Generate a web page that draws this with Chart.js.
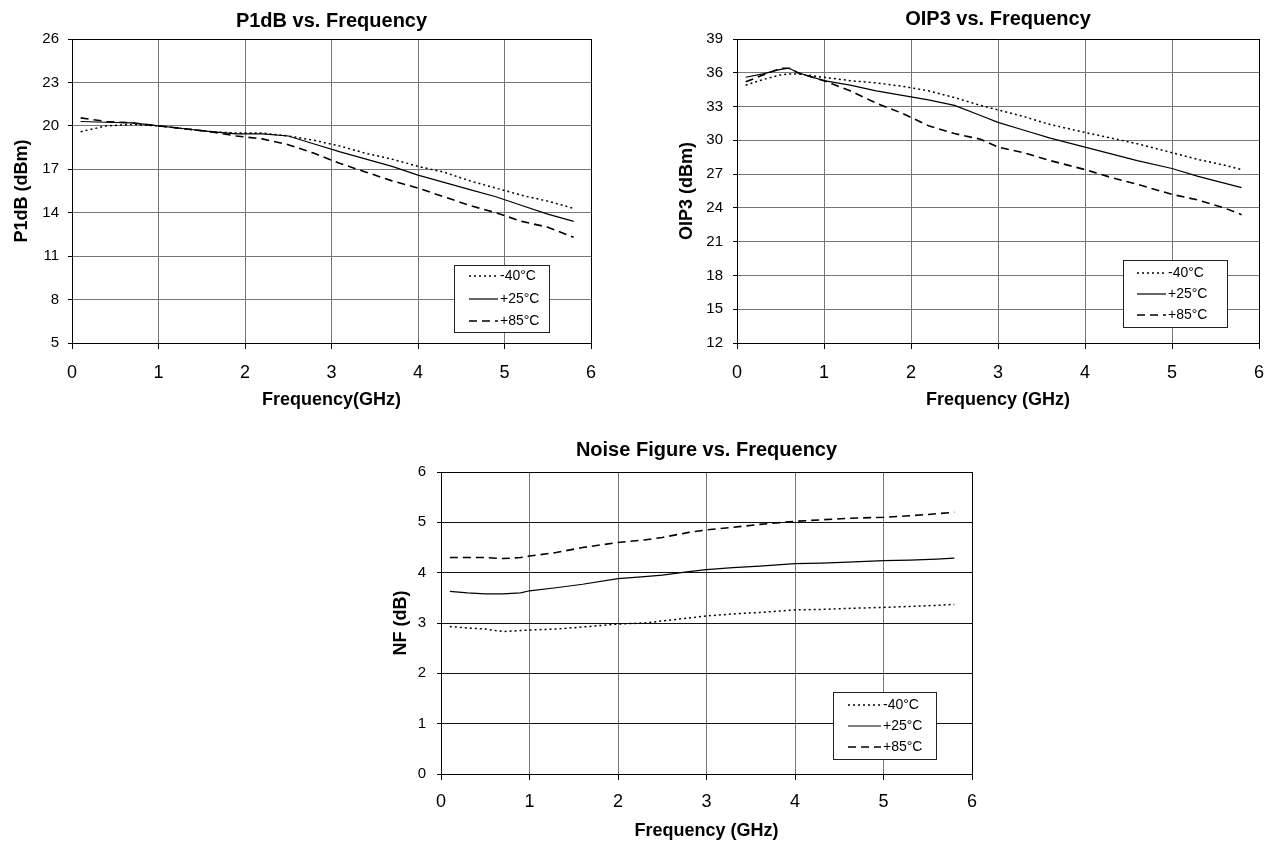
<!DOCTYPE html>
<html>
<head>
<meta charset="utf-8">
<script src="https://cdn.jsdelivr.net/npm/chart.js@4.4.1/dist/chart.umd.min.js"></script>
<style>
  body { margin: 0; background: #fff; width: 1268px; height: 843px; position: relative; overflow: hidden; }
  canvas { position: absolute; }
</style>
</head>
<body>
<canvas id="chartP1dB" width="620" height="420" style="left:0;top:0"></canvas>
<canvas id="chartOIP3" width="620" height="420" style="left:660px;top:0"></canvas>
<canvas id="chartNF" width="612" height="418" style="left:380px;top:425px"></canvas>
<script>
const tempLabels = ["-40°C", "+25°C", "+85°C"];
const lineDashes = [[2, 3], [], [8, 5]];
const lineWidths = [1.5, 1.2, 1.6];

// P1dB vs. Frequency
const freqP1dB = [0.1, 0.4, 0.7, 1.0, 1.3, 1.6, 1.9, 2.2, 2.5, 2.8, 3.1, 3.4, 3.7, 4.0, 4.3, 4.6, 4.9, 5.2, 5.5, 5.8];
const p1dbMinus40 = [19.6, 20.0, 20.1, 20.0, 19.8, 19.6, 19.5, 19.5, 19.3, 19.0, 18.6, 18.1, 17.7, 17.2, 16.8, 16.2, 15.7, 15.2, 14.8, 14.3];
const p1dbPlus25 = [20.3, 20.25, 20.2, 20.0, 19.8, 19.6, 19.45, 19.45, 19.3, 18.75, 18.2, 17.7, 17.2, 16.6, 16.1, 15.6, 15.1, 14.5, 13.9, 13.4];
const p1dbPlus85 = [20.55, 20.3, 20.2, 20.0, 19.8, 19.6, 19.3, 19.1, 18.7, 18.1, 17.4, 16.8, 16.2, 15.7, 15.1, 14.5, 14.0, 13.4, 13.0, 12.3];

// OIP3 vs. Frequency
const freqOIP3 = [0.1, 0.3, 0.5, 0.6, 0.7, 1.0, 1.3, 1.6, 1.9, 2.2, 2.5, 2.8, 3.0, 3.3, 3.6, 4.0, 4.3, 4.6, 5.0, 5.3, 5.6, 5.8];
const oip3Minus40 = [34.9, 35.4, 35.8, 35.9, 35.9, 35.6, 35.3, 35.1, 34.8, 34.4, 33.8, 33.1, 32.7, 32.1, 31.4, 30.7, 30.2, 29.7, 28.9, 28.3, 27.8, 27.4];
const oip3Plus25 = [35.6, 35.9, 36.3, 36.4, 36.0, 35.3, 34.9, 34.4, 34.0, 33.6, 33.1, 32.2, 31.6, 30.9, 30.2, 29.4, 28.8, 28.2, 27.5, 26.8, 26.2, 25.8];
const oip3Plus85 = [35.2, 35.8, 36.4, 36.4, 36.0, 35.3, 34.4, 33.3, 32.4, 31.3, 30.6, 30.1, 29.4, 28.9, 28.2, 27.4, 26.7, 26.1, 25.2, 24.7, 24.0, 23.4];

// Noise Figure vs. Frequency
const freqNF = [0.1, 0.3, 0.5, 0.7, 0.9, 1.0, 1.3, 1.6, 2.0, 2.3, 2.5, 2.8, 3.0, 3.3, 3.6, 4.0, 4.3, 4.6, 5.0, 5.3, 5.6, 5.8];
const nfMinus40 = [2.93, 2.9, 2.88, 2.83, 2.85, 2.86, 2.88, 2.92, 2.98, 3.0, 3.04, 3.1, 3.14, 3.18, 3.21, 3.26, 3.27, 3.29, 3.31, 3.33, 3.35, 3.37];
const nfPlus25 = [3.63, 3.6, 3.58, 3.58, 3.6, 3.64, 3.7, 3.77, 3.88, 3.92, 3.95, 4.02, 4.06, 4.1, 4.13, 4.18, 4.19, 4.21, 4.24, 4.25, 4.27, 4.29];
const nfPlus85 = [4.3, 4.3, 4.3, 4.28, 4.3, 4.33, 4.4, 4.5, 4.6, 4.65, 4.7, 4.8, 4.85, 4.9, 4.96, 5.02, 5.05, 5.08, 5.1, 5.13, 5.17, 5.2];

const FONT = "'Liberation Sans', Arial, sans-serif";
Chart.defaults.font.family = FONT;
Chart.defaults.color = "#000";

function points(xs, ys) {
  return xs.map((x, i) => ({ x: x, y: ys[i] }));
}

// boxed legend sitting inside the plot, bottom right
const boxLegend = {
  id: "boxLegend",
  afterDraw(chart, args, opts) {
    const { ctx, chartArea } = chart;
    const x = Math.round(chartArea.right - opts.right - opts.width);
    const y = Math.round(chartArea.bottom - opts.bottom - opts.height);
    ctx.save();
    ctx.fillStyle = "#fff";
    ctx.fillRect(x, y, opts.width, opts.height);
    ctx.strokeStyle = "#222";
    ctx.lineWidth = 1;
    ctx.strokeRect(x + 0.5, y + 0.5, opts.width, opts.height);
    ctx.font = "14px " + FONT;
    ctx.textBaseline = "middle";
    chart.data.datasets.forEach((ds, i) => {
      const ry = y + opts.rows[i];
      ctx.beginPath();
      ctx.setLineDash(ds.borderDash || []);
      ctx.lineWidth = ds.borderWidth;
      ctx.strokeStyle = "#000";
      ctx.moveTo(x + opts.lineFrom, ry);
      ctx.lineTo(x + opts.lineTo, ry);
      ctx.stroke();
      ctx.setLineDash([]);
      ctx.fillStyle = "#000";
      ctx.fillText(ds.label, x + opts.textAt, ry);
    });
    ctx.restore();
  }
};

function makeChart(canvasId, o) {
  new Chart(document.getElementById(canvasId), {
    type: "line",
    data: {
      datasets: o.series.map((ys, i) => ({
        label: tempLabels[i],
        data: points(o.freq, ys),
        borderColor: "#000",
        borderWidth: lineWidths[i],
        borderDash: lineDashes[i],
        pointRadius: 0,
        tension: 0,
        fill: false,
      })),
    },
    options: {
      responsive: false,
      animation: false,
      layout: { padding: o.padding },
      plugins: {
        legend: { display: false },
        tooltip: { enabled: false },
        title: {
          display: true,
          text: o.title,
          fullSize: false,
          color: "#000",
          font: { size: 20, weight: "bold", lineHeight: 1.2 },
          padding: o.titlePad,
        },
        boxLegend: o.legend,
      },
      scales: {
        x: {
          type: "linear",
          min: 0,
          max: 6,
          ticks: { stepSize: 1, color: "#000", font: { size: 18 }, padding: o.xTickPad, maxRotation: 0 },
          grid: {
            color: (c) => (c.tick && c.tick.value === 6 ? "#000" : o.vGrid),
            tickLength: 6,
            tickColor: "#000",
          },
          border: { color: "#000", width: 1 },
          title: {
            display: true,
            text: o.xTitle,
            color: "#000",
            font: { size: 18, weight: "bold" },
            padding: { top: 0, bottom: o.xTitleBottom },
          },
          afterFit: (s) => { s.height = o.xHeight; },
        },
        y: {
          min: o.yMin,
          max: o.yMax,
          ticks: { stepSize: o.yStep, color: "#000", font: { size: 15 }, padding: o.yTickPad },
          grid: {
            color: (c) => (c.tick && c.tick.value === o.yMax ? "#000" : o.hGrid),
            tickLength: 4,
            tickColor: "#000",
          },
          border: { color: "#000", width: 1 },
          title: {
            display: true,
            text: o.yTitle,
            color: "#000",
            font: { size: 18, weight: "bold" },
            padding: { top: o.yTitleTop, bottom: 0 },
          },
          afterFit: (s) => { s.width = o.yWidth; },
        },
      },
    },
    plugins: [boxLegend],
  });
}

makeChart("chartP1dB", {
  title: "P1dB vs. Frequency",
  xTitle: "Frequency(GHz)",
  yTitle: "P1dB (dBm)",
  freq: freqP1dB,
  series: [p1dbMinus40, p1dbPlus25, p1dbPlus85],
  yMin: 5, yMax: 26, yStep: 3,
  padding: { left: 0, right: 29, top: 0, bottom: 0 },
  titlePad: { top: 9, bottom: 6 },
  yWidth: 72, xHeight: 77,
  xTickPad: 13.5, yTickPad: 9,
  xTitleBottom: 9.2, yTitleTop: 11.7,
  vGrid: "#777", hGrid: "#777",
  legend: { right: 42, bottom: 11, width: 95, height: 67, rows: [11, 34, 56], lineFrom: 15, lineTo: 44, textAt: 46 },
});

makeChart("chartOIP3", {
  title: "OIP3 vs. Frequency",
  xTitle: "Frequency (GHz)",
  yTitle: "OIP3 (dBm)",
  freq: freqOIP3,
  series: [oip3Minus40, oip3Plus25, oip3Plus85],
  yMin: 12, yMax: 39, yStep: 3,
  padding: { left: 0, right: 21, top: 0, bottom: 0 },
  titlePad: { top: 7, bottom: 8 },
  yWidth: 77, xHeight: 77,
  xTickPad: 13.5, yTickPad: 10,
  xTitleBottom: 9.2, yTitleTop: 16.7,
  vGrid: "#777", hGrid: "#777",
  legend: { right: 32, bottom: 16, width: 104, height: 67, rows: [13, 34, 55], lineFrom: 14, lineTo: 43, textAt: 45 },
});

makeChart("chartNF", {
  title: "Noise Figure vs. Frequency",
  xTitle: "Frequency (GHz)",
  yTitle: "NF (dB)",
  freq: freqNF,
  series: [nfMinus40, nfPlus25, nfPlus85],
  yMin: 0, yMax: 6, yStep: 1,
  padding: { left: 0, right: 20, top: 0, bottom: 0 },
  titlePad: { top: 13, bottom: 10 },
  yWidth: 61, xHeight: 69,
  xTickPad: 11.7, yTickPad: 11,
  xTitleBottom: 1.5, yTitleTop: 10.2,
  vGrid: "#777", hGrid: "#111",
  legend: { right: 36, bottom: 15, width: 103, height: 67, rows: [13, 34, 55], lineFrom: 15, lineTo: 48, textAt: 50 },
});
</script>
</body>
</html>
